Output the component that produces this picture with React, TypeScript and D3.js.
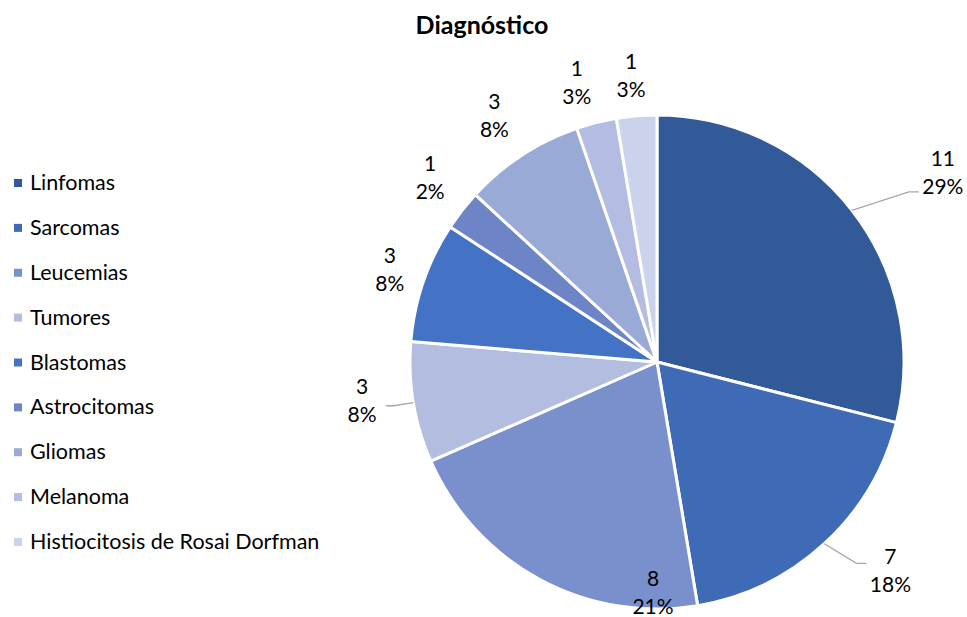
import React from "react";
import * as d3 from "d3";

const categories = [
  "Linfomas",
  "Sarcomas",
  "Leucemias",
  "Tumores",
  "Blastomas",
  "Astrocitomas",
  "Gliomas",
  "Melanoma",
  "Histiocitosis de Rosai Dorfman",
];
const values = [11, 7, 8, 3, 3, 1, 3, 1, 1];
const percentLabels = ["29%", "18%", "21%", "8%", "8%", "2%", "8%", "3%", "3%"];
const colors = [
  "#325998",
  "#3f6ab6",
  "#7a90cc",
  "#b2bde0",
  "#4472c4",
  "#6d85c6",
  "#9aaad7",
  "#b4bde1",
  "#cbd2ec",
];
const title = "Diagnóstico";

// layout tweaks for label placement (dx, dy from default polar position)
const labelNudge: [number, number][] = [
  [57, -12],
  [37, -5],
  [134, -25],
  [-9, -10],
  [7, 1],
  [2, -7],
  [-4, -4],
  [-9, 1],
  [-2, 2],
];
const hasLeader = [true, true, false, true, false, false, false, false, false];

const W = 967;
const H = 617;
const cx = 657;
const cy = 362;
const R = 247;
const LR = 290;
const FONT = "Lato, 'Open Sans', sans-serif";

export default function App() {
  const pie = d3.pie<number>().sort(null).value((d) => d)(values);
  const arc = d3.arc<d3.PieArcDatum<number>>().innerRadius(0).outerRadius(R);
  const legendY = d3.scalePoint<string>().domain(categories).range([183, 542]);

  return (
    <div style={{ position: "absolute", left: 0, top: 0 }}>
      <svg width={W} height={H} style={{ display: "block", background: "#fff" }}>
        <text
          x={482}
          y={34}
          textAnchor="middle"
          fontFamily={FONT}
          fontWeight="bold"
          fontSize={25}
          fill="#000"
        >
          {title}
        </text>
        <g transform={`translate(${cx},${cy})`}>
          {pie.map((p, i) => (
            <path key={i} d={arc(p) || ""} fill={colors[i]} stroke="#fff" strokeWidth={3} strokeLinejoin="round" />
          ))}
          {pie.map((p, i) => {
            const mid = (p.startAngle + p.endAngle) / 2;
            const lx = Math.sin(mid) * LR + labelNudge[i][0];
            const ly = -Math.cos(mid) * LR + labelNudge[i][1];
            const ex = Math.sin(mid) * R;
            const ey = -Math.cos(mid) * R;
            let leader = null;
            if (hasLeader[i]) {
              const right = lx > 0;
              const tipX = right ? lx - 24 : lx + 24;
              const tipY = ly + (i === 0 ? 20 : i === 1 ? -7 : 6);
              const bendX = right ? tipX - 10 : tipX + 8;
              leader = (
                <polyline
                  points={`${ex},${ey} ${bendX},${tipY} ${tipX},${tipY}`}
                  fill="none"
                  stroke="#a6a6a6"
                  strokeWidth={1.3}
                />
              );
            }
            return (
              <g key={"l" + i}>
                {leader}
                <text
                  x={lx}
                  y={ly - 6}
                  textAnchor="middle"
                  fontFamily={FONT}
                  fontSize={21}
                  fill="#000"
                >
                  {values[i]}
                </text>
                <text
                  x={lx}
                  y={ly + 22}
                  textAnchor="middle"
                  fontFamily={FONT}
                  fontSize={21}
                  fill="#000"
                >
                  {percentLabels[i]}
                </text>
              </g>
            );
          })}
        </g>
        <g>
          {categories.map((c, i) => {
            const y = legendY(c) as number;
            return (
              <g key={c}>
                <rect x={14} y={y - 4} width={8} height={8} fill={colors[i]} />
                <text x={30} y={y + 7} fontFamily={FONT} fontSize={21.5} fill="#000">
                  {c}
                </text>
              </g>
            );
          })}
        </g>
      </svg>
    </div>
  );
}
